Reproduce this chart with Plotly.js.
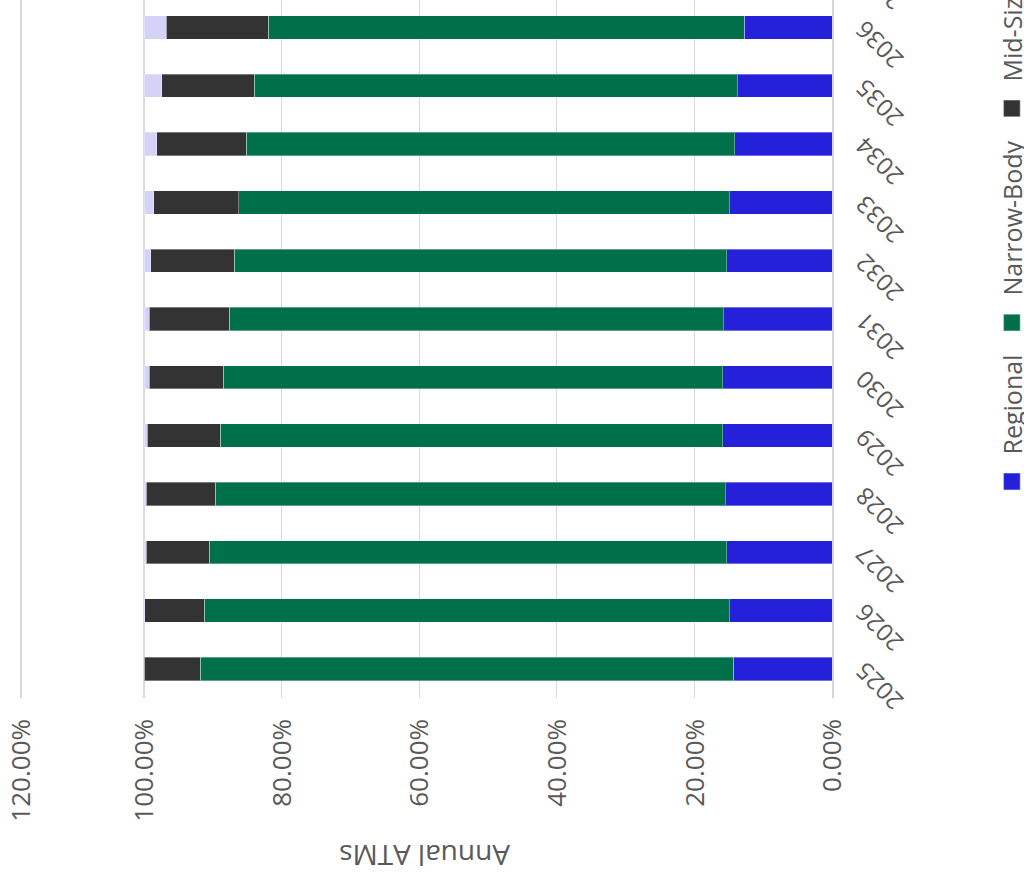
<!DOCTYPE html>
<html><head><meta charset="utf-8">
<script src="https://cdn.plot.ly/plotly-3.0.1.min.js"></script>
<style>
html,body{margin:0;padding:0;width:1024px;height:887px;overflow:hidden;background:#fff;}
#chart{position:absolute;left:0;top:887px;width:1250px;height:1100px;transform-origin:0 0;transform:rotate(-90deg);}
</style></head><body><div id="chart"></div>
<script>
// Categories (years)
const years = ['2025','2026','2027','2028','2029','2030','2031','2032','2033','2034','2035','2036','2037'];
// Shares in percent (2037 bar lies outside the visible crop -> unknown)
const regional   = [14.34,14.87,15.31,15.45,15.89,15.89,15.74,15.31,14.87,14.14,13.71,12.79,null];
const narrowBody = [77.48,76.36,75.20,74.19,73.02,72.58,71.86,71.56,71.37,70.99,70.26,69.14,null];
const midSize    = [ 8.13, 8.67, 9.20,10.07,10.60,10.80,11.67,12.16,12.31,13.02,13.46,14.87,null];
const large      = [ 0.05, 0.10, 0.29, 0.29, 0.49, 0.73, 0.73, 0.97, 1.45, 1.85, 2.57, 3.20,null];
const seriesNames = ['Regional','Narrow-Body','Mid-Size','Large'];
// Value-axis tick labels
const valueTickText = ['0.00%','20.00%','40.00%','60.00%','80.00%','100.00%','120.00%'];
const valueTickVals = [0,0.2,0.4,0.6,0.8,1.0,1.1788];

const colors = ['#2521DA','#00704A','#333333','#D4D2F7'];
const data = [regional, narrowBody, midSize, large].map((arr,i)=>({
  type:'bar', name: seriesNames[i], x: years,
  y: arr.map(v => v==null ? null : v/100),
  marker:{color: colors[i], line:{width:1, color:'rgba(255,255,255,0.35)'}},
  hoverinfo:'skip'
}));

const grey = '#595959';
const layout = {
  width:1250, height:1100,
  margin:{l:189, r:303, t:17, b:268},
  barmode:'stack', bargap:0.6,
  paper_bgcolor:'#fff', plot_bgcolor:'#fff',
  font:{family:'"Open Sans", sans-serif', color:grey},
  showlegend:true,
  legend:{orientation:'h', x:0.25, xanchor:'left', y:-0.221, yanchor:'middle',
          font:{size:25, color:grey}, traceorder:'normal', itemwidth:44, bgcolor:'rgba(0,0,0,0)'},
  xaxis:{type:'category', categoryorder:'array', categoryarray:years, range:[-0.5,12.5],
         tickangle:-45, tickfont:{size:24, color:grey}, showgrid:false,
         showline:true, linecolor:'#D6D6D6', linewidth:2, ticks:'', ticklabelstandoff:7, fixedrange:true},
  yaxis:{range:[0,1.1846], tickmode:'array', tickvals:valueTickVals, ticktext:valueTickText,
         tickfont:{size:26, color:grey}, showgrid:true, gridcolor:'#D9D9D9', gridwidth:1.3,
         zeroline:false, showline:false, ticks:'', ticklabelstandoff:20,
         title:{text:'Annual ATMs', font:{size:28, color:grey}, standoff:14}, fixedrange:true}
};
Plotly.newPlot('chart', data, layout, {staticPlot:true, displayModeBar:false}).then(() => {
  // enlarge legend swatches to match the reference's bigger squares
  document.querySelectorAll('#chart .legend .legendpoints path').forEach(p => {
    p.setAttribute('transform', (p.getAttribute('transform') || '') + ' scale(1.4)');
  });
});
</script></body></html>
